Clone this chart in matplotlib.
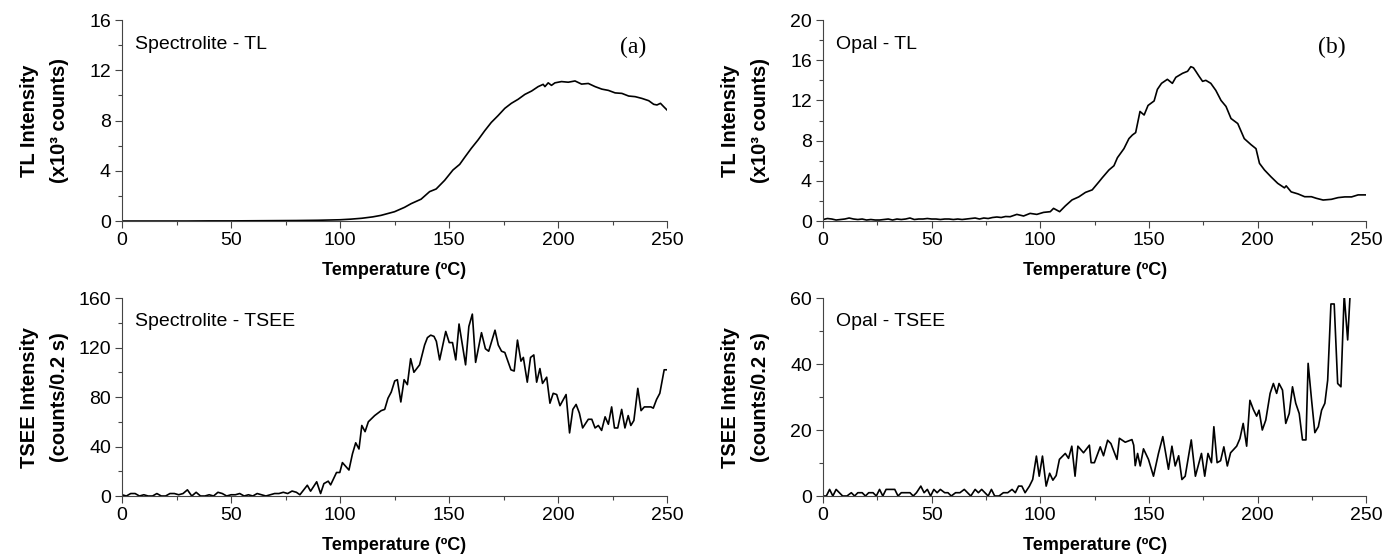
import matplotlib
matplotlib.use("Agg")
import matplotlib.pyplot as plt
from matplotlib.ticker import MultipleLocator

# (temperature in ºC, intensity)
spec_tl = [(0, 0.0), (10, 0.0), (20, 0.0), (30, 0.0), (40, 0.01), (50, 0.01), (60, 0.02), (70, 0.03),
           (80, 0.04), (90, 0.06), (100, 0.1), (105, 0.15), (110, 0.22), (115, 0.33), (118.8, 0.45),
           (125, 0.74), (129.6, 1.09), (132.6, 1.38), (137.2, 1.74), (141.1, 2.34), (144.1, 2.55),
           (148, 3.24), (151.8, 4.06), (154.9, 4.51), (157.2, 5.07), (160.2, 5.78), (163.3, 6.45),
           (166.4, 7.19), (169.4, 7.85), (172.5, 8.39), (175.6, 8.97), (178.6, 9.37), (181.7, 9.69),
           (184.8, 10.08), (187.9, 10.35), (190.9, 10.7), (193.2, 10.88), (194, 10.7), (195.5, 11.0),
           (197, 10.8), (198.6, 11.0), (201.6, 11.1), (204.7, 11.05), (207.8, 11.15), (210.8, 10.9),
           (213.9, 10.95), (217, 10.7), (220.1, 10.5), (223.1, 10.4), (226.2, 10.2), (229.3, 10.16),
           (232.4, 9.95), (235.4, 9.9), (238.5, 9.76), (241.6, 9.58), (243.9, 9.29), (245.4, 9.24),
           (247, 9.37), (248.5, 9.1), (250, 8.84)]

opal_tl = [(0, 0.15), (2, 0.25), (4, 0.2), (6, 0.1), (8, 0.15), (10, 0.2), (12, 0.3), (14, 0.2),
           (16, 0.15), (18, 0.2), (20, 0.1), (22, 0.15), (24, 0.1), (26, 0.1), (28, 0.15), (30, 0.2),
           (32, 0.1), (34, 0.2), (36, 0.15), (38, 0.2), (40, 0.3), (42, 0.15), (44, 0.2), (46, 0.2),
           (48, 0.25), (50, 0.2), (52, 0.2), (54, 0.15), (56, 0.2), (58, 0.2), (60, 0.15), (62, 0.2),
           (64, 0.15), (66, 0.2), (68, 0.25), (70, 0.3), (72, 0.2), (74, 0.3), (76, 0.25), (78, 0.35),
           (80, 0.4), (82, 0.35), (84, 0.45), (86.1, 0.43), (89.2, 0.66), (92.3, 0.5), (95.3, 0.76),
           (98.4, 0.66), (101.5, 0.86), (104.6, 0.93), (106.1, 1.26), (108.9, 0.93), (111.5, 1.5),
           (114.6, 2.1), (117.7, 2.4), (120.8, 2.85), (123.9, 3.1), (127, 3.9), (128.5, 4.3),
           (131.6, 5.08), (133.9, 5.5), (135.5, 6.3), (138.5, 7.2), (140.8, 8.2), (142.4, 8.56),
           (143.9, 8.8), (145.9, 10.9), (147.8, 10.55), (149.6, 11.5), (152.4, 11.95), (153.9, 13.1),
           (155.8, 13.7), (158.5, 14.1), (160.8, 13.7), (162.4, 14.3), (165.5, 14.7), (167.8, 14.9),
           (169.3, 15.36), (170.5, 15.25), (171.6, 14.9), (173.1, 14.4), (174.7, 13.9), (176.2, 14.0),
           (178.5, 13.7), (180.8, 13.0), (183.2, 12.0), (185.5, 11.4), (187.8, 10.2), (190.9, 9.7),
           (193.9, 8.2), (197, 7.6), (199.3, 7.2), (200.9, 5.74), (203.2, 5.08), (206.2, 4.4),
           (209.3, 3.75), (212.4, 3.3), (213.2, 3.5), (215.5, 2.9), (218.6, 2.7), (221.7, 2.42),
           (224.8, 2.42), (227.1, 2.26), (230.2, 2.09), (234, 2.16), (237.1, 2.33), (240.2, 2.4),
           (243.3, 2.4), (246.3, 2.6), (250.2, 2.6)]

spec_tsee = [(0, 1), (2, 0), (4, 2), (6, 2), (8, 0), (10, 1), (12, 0), (14, 0), (16, 2), (18, 0),
             (20, 0), (22, 2), (24, 2), (26, 1), (28, 2), (30, 5), (32, 0), (34, 3), (36, 0), (38, 0),
             (40, 1), (42, 0), (44, 3), (46, 2), (48, 0), (50, 1), (52, 1), (54, 2), (56, 0), (58, 1),
             (60, 0), (62, 2), (64, 1), (66, 0), (68, 1), (70, 2), (72, 2), (74, 3), (76, 2), (78, 4),
             (80, 3), (81.6, 1), (85, 8.7), (86.5, 3.9), (89.3, 11.5), (91.1, 2), (92.6, 10), (94.6, 12),
             (95.7, 9), (98.4, 19), (99.9, 19), (101.1, 27), (104.1, 21), (105.7, 34), (107.2, 43),
             (108.7, 38), (110, 57), (111.5, 52), (113, 60), (115.9, 65), (118.9, 69), (120.5, 70),
             (122, 79), (123.5, 84), (125.1, 93), (126.3, 94), (127.9, 76), (129.4, 94), (130.9, 90),
             (132.4, 111), (133.9, 100), (136.5, 106), (138.8, 122), (140.1, 128), (141.6, 130),
             (143.1, 129), (144.2, 125), (145.7, 110), (148.5, 133), (150.1, 124), (151.6, 124),
             (153.1, 110), (154.6, 139), (157.6, 106), (159.1, 137), (160.7, 147), (162.2, 108),
             (164.9, 132), (166.7, 119), (168.2, 117), (171.1, 134), (172.6, 122), (174.1, 117),
             (175.6, 116), (178.4, 102), (179.9, 101), (181.4, 126), (183, 109), (184.1, 112),
             (185.9, 92), (187.4, 112), (188.9, 114), (190.2, 92), (191.7, 103), (192.9, 91),
             (194.8, 96), (196.3, 75), (197.8, 83), (199.4, 82), (200.9, 73), (203.7, 82), (205.3, 51),
             (206.8, 70), (208.3, 74), (209.8, 67), (211.3, 55), (213.9, 62), (215.5, 62), (217, 55),
             (218.5, 57), (220, 53), (221.6, 64), (223.1, 58), (224.6, 72), (225.9, 55), (227.4, 55),
             (229.2, 70), (230.7, 55), (232.2, 65), (233.4, 57), (234.8, 61), (236.6, 87), (238.1, 69),
             (239.6, 72), (242.6, 72), (243.7, 71), (245.2, 78), (246.7, 83), (248.7, 102), (249.8, 102)]

opal_tsee = [(0, 0), (1.5, 0), (3, 2), (4.5, 0), (6, 2), (7.5, 1), (9, 0), (11, 0), (13, 1), (14.5, 0),
             (16, 1), (18, 1), (19.5, 0), (21, 1), (23, 1), (24.5, 0), (26, 2), (27.5, 0), (29, 2),
             (31, 2), (33, 2), (34.5, 0), (36, 1), (38, 1), (40, 1), (41.5, 0), (43, 1), (45, 3),
             (46.5, 1), (48, 2), (49.5, 0), (51, 2), (52.5, 1), (54, 2), (56, 1), (57.5, 1), (59, 0),
             (61, 1), (63, 1), (65, 2), (66.5, 1), (68, 0), (70, 2), (71.5, 1), (73, 2), (74.5, 1),
             (76, 0), (77.5, 2), (79, 0), (81, 0), (83, 1), (85, 1), (87, 2), (88.5, 1), (90, 3),
             (91.5, 3), (93, 1), (95, 3), (96.5, 5), (98.2, 12.1), (99.5, 6), (101, 12.1), (102.7, 3),
             (104.3, 6.9), (105.8, 4.8), (107.3, 6.2), (108.8, 11.1), (111.5, 12.9), (113, 11.4),
             (114.5, 15.1), (116, 6), (117.3, 15.1), (119.9, 13.1), (122.6, 15.4), (123.4, 10.1),
             (124.9, 10.1), (127.6, 14.9), (129.1, 12.2), (131, 16.9), (132.5, 15.9), (135.3, 11.1),
             (136.4, 17.5), (139.1, 16.3), (142.2, 17.1), (143, 15.4), (143.7, 9.2), (144.8, 12.9),
             (146, 9.1), (147.5, 14.3), (149.8, 11.1), (152.1, 6), (154.4, 12.9), (156.4, 18),
             (159, 8.1), (160.6, 15.1), (162.1, 9.1), (163.7, 12.2), (165.2, 5), (166.7, 6),
             (169.5, 17), (171.4, 6), (174.2, 12.9), (175.7, 6), (177.2, 12.9), (178.8, 10.1),
             (179.9, 21), (181.4, 10.1), (183, 10.7), (184.5, 14.9), (186.1, 9.1), (187.6, 13.1),
             (190.4, 15.1), (191.9, 17.4), (193.4, 22), (195, 15.1), (196.5, 29), (198.1, 26.2),
             (199.6, 24.2), (200.7, 26), (202.2, 20), (203.8, 23), (205.8, 31.1), (207.3, 34.1),
             (208.8, 31.1), (209.9, 34.1), (211.5, 32.1), (213, 22), (214.6, 25), (216.1, 33.1),
             (217.6, 28.1), (219.2, 25), (220.7, 17), (222.3, 17), (223.3, 40.2), (224.9, 29),
             (226.4, 19.2), (228, 21), (229.5, 26), (231, 28.1), (232.3, 35.1), (233.8, 58.2),
             (235.3, 58.2), (236.9, 34.1), (238.4, 33.1), (239.9, 61), (241.5, 47.3), (242.7, 62),
             (244.5, 75), (247.6, 60.3), (249, 72)]

panels = [
    # data, axes rect, ymax, major, minor, sample label, letter, ylabel
    (spec_tl, [0.0874, 0.6039, 0.3904, 0.3602], 16, 4, 2, "Spectrolite - TL", "(a)",
     "TL Intensity\n(x10³ counts)"),
    (opal_tl, [0.5896, 0.6039, 0.3890, 0.3602], 20, 4, 2, "Opal - TL", "(b)",
     "TL Intensity\n(x10³ counts)"),
    (spec_tsee, [0.0874, 0.1111, 0.3904, 0.3548], 160, 40, 20, "Spectrolite - TSEE", None,
     "TSEE Intensity\n(counts/0.2 s)"),
    (opal_tsee, [0.5896, 0.1111, 0.3890, 0.3548], 60, 20, 10, "Opal - TSEE", None,
     "TSEE Intensity\n(counts/0.2 s)"),
]

narrow = ["Liberation Sans Narrow", "DejaVu Sans Condensed", "Liberation Sans"]
bold = ["Liberation Sans", "DejaVu Sans"]

fig = plt.figure(figsize=(13.96, 5.58), dpi=100)

for data, rect, ymax, major, minor, name, letter, ylab in panels:
    ax = fig.add_axes(rect)
    t = [p[0] for p in data]
    v = [p[1] for p in data]
    ax.plot(t, v, color="black", lw=1.2)
    ax.set_xlim(0, 250)
    ax.set_ylim(0, ymax)
    ax.xaxis.set_major_locator(MultipleLocator(50))
    ax.xaxis.set_minor_locator(MultipleLocator(25))
    ax.yaxis.set_major_locator(MultipleLocator(major))
    ax.yaxis.set_minor_locator(MultipleLocator(minor))
    for s in ["top", "right"]:
        ax.spines[s].set_visible(False)
    for s in ["left", "bottom"]:
        ax.spines[s].set_color("#444444")
        ax.spines[s].set_linewidth(0.8)
    ax.tick_params(which="major", direction="out", length=5, width=0.8, color="#444444", pad=3)
    ax.tick_params(which="minor", direction="out", length=3, width=0.8, color="#444444")
    for lab in ax.get_xticklabels() + ax.get_yticklabels():
        lab.set_family(narrow)
        lab.set_fontsize(14)
    ax.set_xlabel("Temperature (ºC)", family=bold, fontweight="bold", fontsize=13, labelpad=9)
    ax.set_ylabel(ylab, family=bold, fontweight="bold", fontsize=14.5, linespacing=1.75)
    ax.yaxis.set_label_coords(-0.097, 0.5)
    ax.text(0.024, 0.88, name, transform=ax.transAxes, family=narrow, fontsize=14,
            va="center", ha="left")
    if letter:
        ax.text(0.937, 0.865, letter, transform=ax.transAxes, family="Liberation Serif",
                fontsize=17, va="center", ha="center")

fig.savefig("out.png", dpi=100)
